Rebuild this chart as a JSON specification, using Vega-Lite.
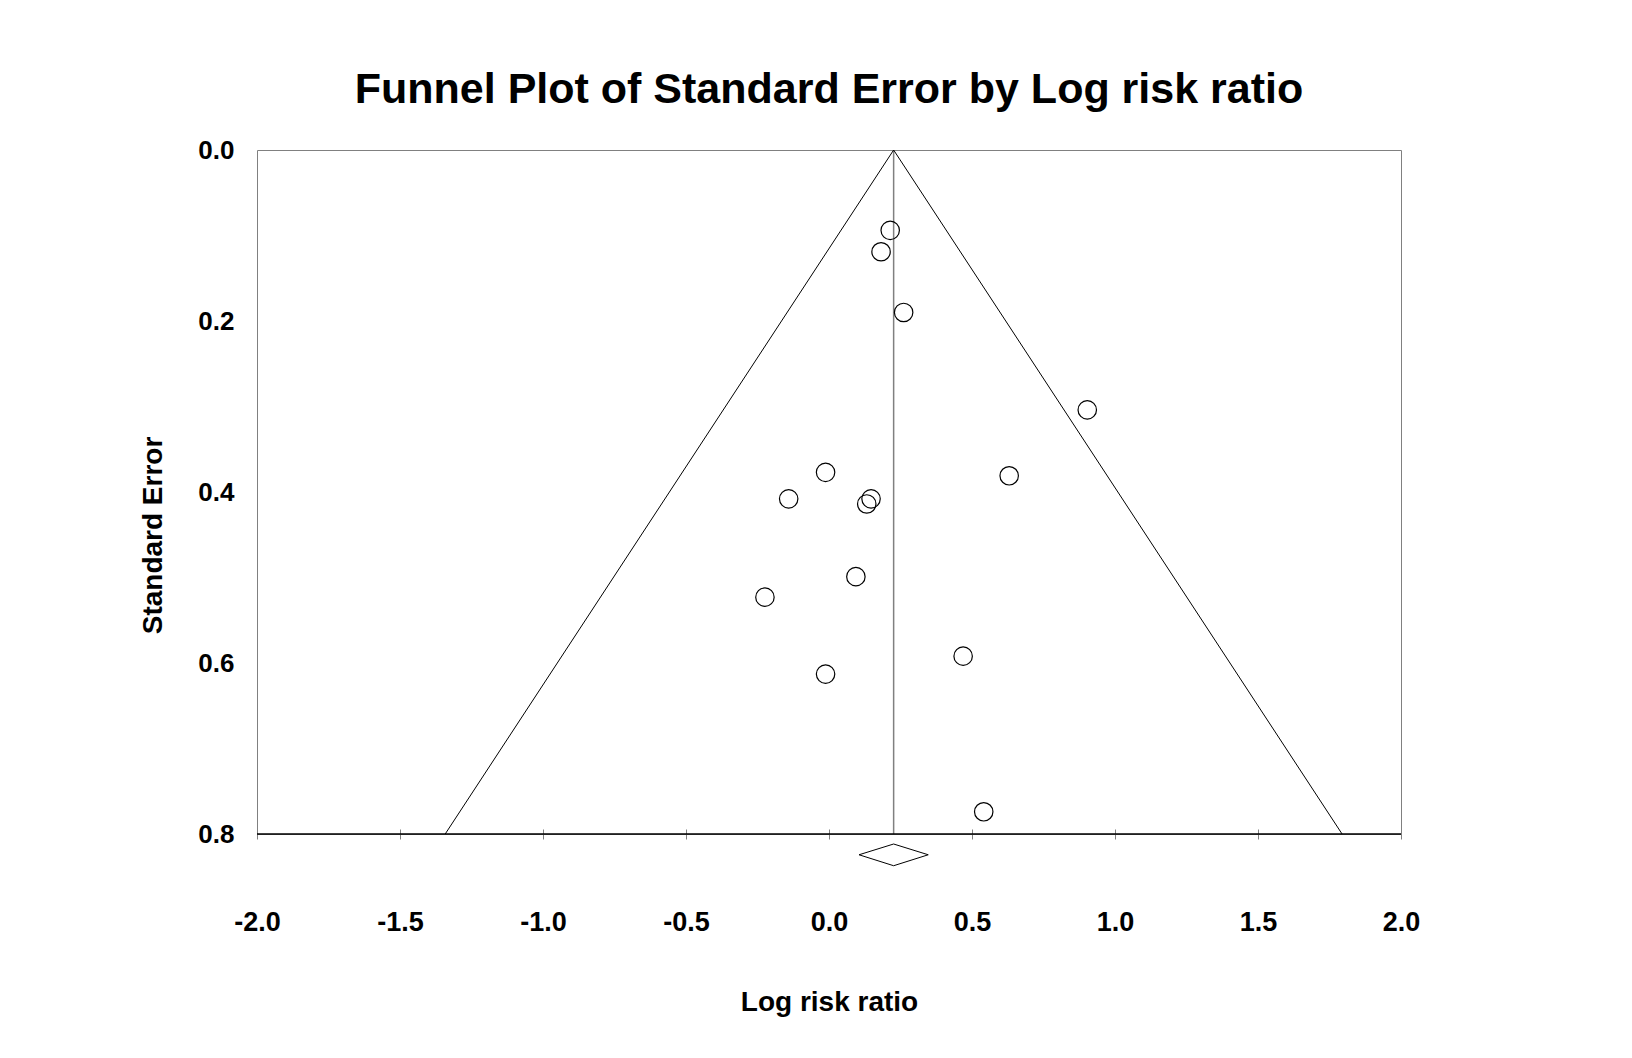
{
  "$schema": "https://vega.github.io/schema/vega-lite/v6.json",
  "autosize": "none",
  "padding": {"left": 257, "top": 150, "right": 231, "bottom": 224},
  "width": 1144,
  "height": 684,
  "background": "white",
  "title": {
    "text": "Funnel Plot of Standard Error by Log risk ratio",
    "font": "Liberation Sans",
    "fontSize": 43,
    "fontWeight": "bold",
    "color": "black",
    "anchor": "middle",
    "baseline": "alphabetic",
    "offset": -9
  },
  "config": {
    "view": {"stroke": "#808080", "strokeWidth": 1},
    "axis": {
      "labelFont": "Liberation Sans",
      "labelFontWeight": "bold",
      "labelColor": "black",
      "titleFont": "Liberation Sans",
      "titleFontWeight": "bold",
      "titleColor": "black",
      "grid": false
    }
  },
  "datasets": {
    "studies": [
      {"lrr": 0.214, "se": 0.094},
      {"lrr": 0.182, "se": 0.119},
      {"lrr": 0.261, "se": 0.190},
      {"lrr": -0.012, "se": 0.377},
      {"lrr": -0.141, "se": 0.408},
      {"lrr": 0.147, "se": 0.408},
      {"lrr": 0.132, "se": 0.414},
      {"lrr": 0.094, "se": 0.499},
      {"lrr": -0.224, "se": 0.523},
      {"lrr": -0.012, "se": 0.613},
      {"lrr": 0.630, "se": 0.381},
      {"lrr": 0.469, "se": 0.592},
      {"lrr": 0.903, "se": 0.304},
      {"lrr": 0.541, "se": 0.774}
    ],
    "funnel": [
      {"lrr": -1.342, "se": 0.8, "k": 1},
      {"lrr": 0.226, "se": 0.0, "k": 2},
      {"lrr": 1.794, "se": 0.8, "k": 3}
    ],
    "pooled": [
      {"lrr": 0.226, "se0": 0.0, "se1": 0.8}
    ],
    "diamond": [
      {"lrr": 0.105, "se": 0.8243, "k": 1},
      {"lrr": 0.226, "se": 0.8117, "k": 2},
      {"lrr": 0.347, "se": 0.8243, "k": 3},
      {"lrr": 0.226, "se": 0.8371, "k": 4},
      {"lrr": 0.105, "se": 0.8243, "k": 5}
    ],
    "bottom": [{"se": 0.8}]
  },
  "layer": [
    {
      "data": {"name": "pooled"},
      "mark": {"type": "rule", "color": "#808080", "strokeWidth": 1.5},
      "encoding": {
        "x": {
          "field": "lrr", "type": "quantitative",
          "scale": {"domain": [-2, 2], "nice": false, "zero": false},
          "axis": {
            "values": [-2, -1.5, -1, -0.5, 0, 0.5, 1, 1.5, 2],
            "format": ".1f",
            "labelExpr": "replace(datum.label, '−', '-')",
            "domain": false,
            "offset": -5,
            "tickSize": 10,
            "tickColor": "#808080",
            "tickWidth": 1,
            "labelFontSize": 27,
            "labelBaseline": "alphabetic",
            "labelPadding": 91,
            "labelFlush": false,
            "labelOverlap": false,
            "title": "Log risk ratio",
            "titleFontSize": 28,
            "titleBaseline": "alphabetic",
            "titleY": 181
          }
        },
        "y": {
          "field": "se0", "type": "quantitative",
          "scale": {"domain": [0, 0.8], "nice": false, "zero": false, "reverse": true},
          "axis": {
            "values": [0, 0.2, 0.4, 0.6, 0.8],
            "format": ".1f",
            "domain": false,
            "ticks": false,
            "tickSize": 0,
            "labelFontSize": 26,
            "labelPadding": 23,
            "labelBaseline": "middle",
            "labelOffset": 0,
            "labelFlush": false,
            "labelOverlap": false,
            "title": "Standard Error",
            "titleFontSize": 28,
            "titleAngle": -90,
            "titleBaseline": "alphabetic",
            "titleAlign": "center",
            "titleX": -96,
            "titleY": 385
          }
        },
        "y2": {"field": "se1"}
      }
    },
    {
      "data": {"name": "bottom"},
      "mark": {"type": "rule", "color": "black", "strokeWidth": 1.5},
      "encoding": {
        "y": {"field": "se", "type": "quantitative"}
      }
    },
    {
      "data": {"name": "funnel"},
      "mark": {"type": "line", "color": "black", "strokeWidth": 1},
      "encoding": {
        "x": {"field": "lrr", "type": "quantitative"},
        "y": {"field": "se", "type": "quantitative"},
        "order": {"field": "k", "type": "quantitative"}
      }
    },
    {
      "data": {"name": "diamond"},
      "mark": {"type": "line", "color": "black", "strokeWidth": 1, "clip": false},
      "encoding": {
        "x": {"field": "lrr", "type": "quantitative"},
        "y": {"field": "se", "type": "quantitative"},
        "order": {"field": "k", "type": "quantitative"}
      }
    },
    {
      "data": {"name": "studies"},
      "mark": {"type": "point", "shape": "circle", "filled": false, "stroke": "black", "strokeWidth": 1.2, "size": 340, "opacity": 1},
      "encoding": {
        "x": {"field": "lrr", "type": "quantitative"},
        "y": {"field": "se", "type": "quantitative"}
      }
    }
  ]
}
